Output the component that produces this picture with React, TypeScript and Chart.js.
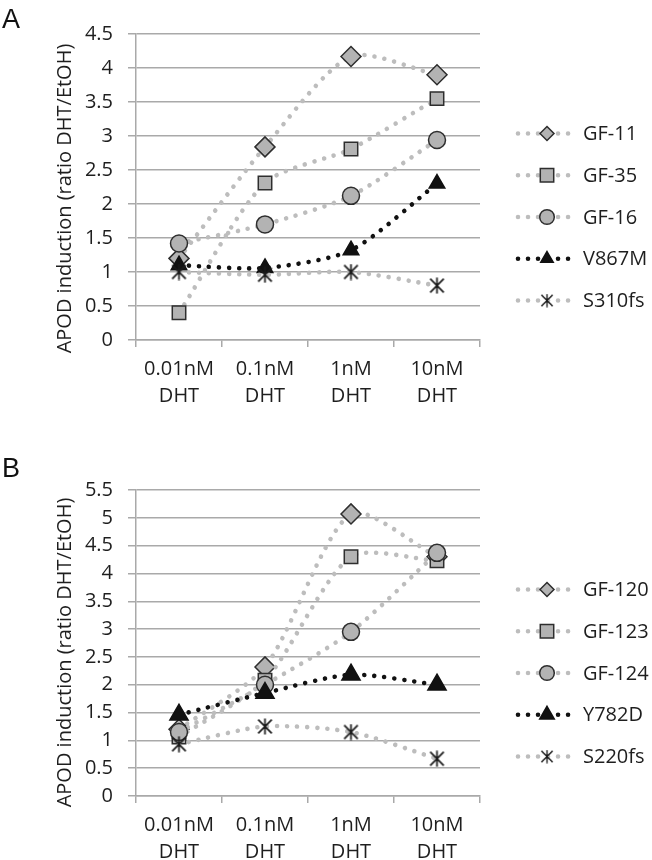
import React, { useEffect, useRef } from 'react';
import { Chart, registerables } from 'chart.js';

Chart.register(...registerables);

// ---------- data ----------
const categories: string[][] = [
  ['0.01nM', 'DHT'],
  ['0.1nM', 'DHT'],
  ['1nM', 'DHT'],
  ['10nM', 'DHT'],
];

const yTitle = 'APOD induction (ratio DHT/EtOH)';

// Panel A
const labelsA = ['GF-11', 'GF-35', 'GF-16', 'V867M', 'S310fs'];
const gf11 = [1.2, 2.84, 4.17, 3.9];
const gf35 = [0.4, 2.31, 2.81, 3.55];
const gf16 = [1.42, 1.7, 2.12, 2.94];
const v867m = [1.1, 1.06, 1.32, 2.3];
const s310fs = [1.0, 0.96, 1.0, 0.8];
const yMaxA = 4.5;

// Panel B
const labelsB = ['GF-120', 'GF-123', 'GF-124', 'Y782D', 'S220fs'];
const gf120 = [1.2, 2.32, 5.07, 4.3];
const gf123 = [1.06, 2.08, 4.3, 4.23];
const gf124 = [1.15, 2.0, 2.95, 4.37];
const y782d = [1.46, 1.85, 2.18, 2.0];
const s220fs = [0.93, 1.25, 1.15, 0.67];
const yMaxB = 5.5;

const yStep = 0.5;

// ---------- style ----------
const GRID = '#a9a9a9';
const TEXT = '#1e1e1e';
const LINE_GRAY = '#bdbdbd';
const LINE_BLACK = '#111111';
const FILL = '#b3b3b3';
const EDGE = '#2e2e2e';
const FONT = '"Open Sans", "Noto Sans", sans-serif';

function makeAsterisk(size: number, color: string, lw: number) {
  const c = document.createElement('canvas');
  c.width = size;
  c.height = size;
  const g = c.getContext('2d')!;
  g.strokeStyle = color;
  g.lineWidth = lw;
  const m = lw;
  g.beginPath();
  g.moveTo(m, m);
  g.lineTo(size - m, size - m);
  g.moveTo(size - m, m);
  g.lineTo(m, size - m);
  g.moveTo(size / 2, 0.5);
  g.lineTo(size / 2, size - 0.5);
  g.stroke();
  return c;
}

function drawMarker(
  ctx: CanvasRenderingContext2D,
  style: any,
  x: number,
  y: number,
  r: number,
  bg: string,
  border: string,
  bw: number
) {
  ctx.save();
  if (typeof style !== 'string') {
    const s = r * 2;
    ctx.drawImage(style, x - s / 2, y - s / 2, s, s);
    ctx.restore();
    return;
  }
  ctx.fillStyle = bg;
  ctx.strokeStyle = border;
  ctx.lineWidth = bw;
  ctx.beginPath();
  if (style === 'rectRot') {
    ctx.moveTo(x, y - r);
    ctx.lineTo(x + r, y);
    ctx.lineTo(x, y + r);
    ctx.lineTo(x - r, y);
    ctx.closePath();
  } else if (style === 'rect') {
    const h = r * Math.SQRT1_2;
    ctx.rect(x - h, y - h, 2 * h, 2 * h);
  } else if (style === 'circle') {
    ctx.arc(x, y, r, 0, Math.PI * 2);
  } else if (style === 'triangle') {
    const s = Math.sin(Math.PI / 3);
    ctx.moveTo(x, y - r);
    ctx.lineTo(x + r * s, y + r * 0.5);
    ctx.lineTo(x - r * s, y + r * 0.5);
    ctx.closePath();
  }
  ctx.fill();
  ctx.stroke();
  ctx.restore();
}

// Legend at the right and y-axis title (offset like the original)
const sideLegend = {
  id: 'sideLegend',
  afterDraw(chart: any, _args: any, opts: any) {
    const { ctx, chartArea } = chart;
    const ds = chart.data.datasets;
    const n = ds.length;
    const spacing = 41.75;
    const cy0 = (chartArea.top + chartArea.bottom) / 2 + 30 - (spacing * (n - 1)) / 2;
    ds.forEach((d: any, i: number) => {
      const y = cy0 + i * spacing;
      const x0 = chartArea.right + 38;
      const x1 = chartArea.right + 89;
      const xm = chartArea.right + 67;
      ctx.save();
      ctx.strokeStyle = d.borderColor;
      ctx.lineWidth = d.borderWidth;
      ctx.lineCap = 'round';
      ctx.setLineDash(d.borderDash);
      ctx.beginPath();
      ctx.moveTo(x0, y);
      ctx.lineTo(x1, y);
      ctx.stroke();
      ctx.setLineDash([]);
      ctx.restore();
      drawMarker(ctx, d.pointStyle, xm, y, d.legendRadius, d.pointBackgroundColor, d.pointBorderColor, d.pointBorderWidth);
      ctx.save();
      ctx.fillStyle = TEXT;
      ctx.font = '20px ' + FONT;
      ctx.textBaseline = 'middle';
      ctx.textAlign = 'left';
      ctx.fillText(d.label, chartArea.right + 103, y + 1);
      ctx.restore();
    });
    // y-axis title
    ctx.save();
    ctx.translate(chartArea.left - 71, (chartArea.top + chartArea.bottom) / 2 + (opts.titleShift || 0));
    ctx.rotate(-Math.PI / 2);
    ctx.fillStyle = TEXT;
    ctx.font = '20px ' + FONT;
    ctx.textAlign = 'center';
    ctx.textBaseline = 'middle';
    ctx.fillText(yTitle, 0, 0);
    ctx.restore();
  },
};

function buildConfig(
  names: string[],
  series: number[][],
  markers: any[],
  yMax: number,
  padTop: number,
  xHeight: number,
  titleShift: number
): any {
  return {
    type: 'line',
    data: {
      labels: categories,
      datasets: series.map((vals, i) => {
        const m = markers[i];
        return {
          label: names[i],
          data: vals,
          order: -i,
          borderColor: m.line,
          borderWidth: 4.6,
          borderDash: [0.01, 10],
          borderCapStyle: 'round',
          tension: 0.25,
          fill: false,
          pointStyle: m.style,
          pointRadius: m.r,
          pointBackgroundColor: m.bg,
          pointBorderColor: m.edge,
          pointBorderWidth: 1.5,
          legendRadius: m.lr,
        };
      }),
    },
    options: {
      responsive: false,
      animation: false,
      layout: { padding: { left: 53, right: 172, top: padTop, bottom: 0 } },
      plugins: {
        legend: { display: false },
        tooltip: { enabled: false },
        sideLegend: { titleShift },
      },
      scales: {
        x: {
          type: 'category',
          offset: true,
          grid: {
            offset: true,
            drawOnChartArea: false,
            drawTicks: true,
            tickLength: 7,
            color: GRID,
            lineWidth: 1.5,
          },
          border: { color: GRID, width: 1.5 },
          ticks: {
            color: TEXT,
            font: { family: FONT, size: 20, lineHeight: 1.35 },
            padding: 9,
            maxRotation: 0,
            autoSkip: false,
          },
          afterFit: (s: any) => {
            s.height = xHeight;
          },
        },
        y: {
          min: 0,
          max: yMax,
          ticks: {
            stepSize: yStep,
            color: TEXT,
            font: { family: FONT, size: 20 },
            padding: 15,
            callback: (v: any) => String(v),
          },
          grid: { color: GRID, lineWidth: 1.5, tickLength: 8 },
          border: { color: GRID, width: 1.5 },
          title: { display: false },
          afterFit: (s: any) => {
            s.width = 83;
          },
        },
      },
    },
    plugins: [sideLegend],
  };
}

export default function App() {
  const refA = useRef<HTMLCanvasElement>(null);
  const refB = useRef<HTMLCanvasElement>(null);

  useEffect(() => {
    const star = makeAsterisk(17, '#1a1a1a', 1.7);
    const mk = (triR: number) => [
      { style: 'rectRot', r: 10, lr: 7, bg: FILL, edge: EDGE, line: LINE_GRAY },
      { style: 'rect', r: 9.5, lr: 9.5, bg: FILL, edge: EDGE, line: LINE_GRAY },
      { style: 'circle', r: 8.5, lr: 7.3, bg: FILL, edge: EDGE, line: LINE_GRAY },
      { style: 'triangle', r: triR, lr: triR * 0.8, bg: '#111', edge: '#111', line: LINE_BLACK },
      { style: star, r: 8.5, lr: 7, bg: '#111', edge: '#111', line: LINE_GRAY },
    ];
    const a = new Chart(
      refA.current!,
      buildConfig(labelsA, [gf11, gf35, gf16, v867m, s310fs], mk(9), yMaxA, 34, 70, 11.5)
    );
    const b = new Chart(
      refB.current!,
      buildConfig(labelsB, [gf120, gf123, gf124, y782d, s220fs], mk(10.5), yMaxB, 80, 64, 9.5)
    );
    return () => {
      a.destroy();
      b.destroy();
    };
  }, []);

  const panelLabel: React.CSSProperties = {
    position: 'absolute',
    left: 2,
    font: '27px "Liberation Sans", Arial, sans-serif',
    lineHeight: '27px',
    color: '#111',
  };

  return (
    <div style={{ position: 'absolute', left: 0, top: 0, width: 652, height: 860, background: '#fff', overflow: 'hidden' }}>
      <canvas ref={refA} width={652} height={410} style={{ position: 'absolute', left: 0, top: 0 }} />
      <canvas ref={refB} width={652} height={450} style={{ position: 'absolute', left: 0, top: 410 }} />
      <div style={{ ...panelLabel, top: 5.6 }}>A</div>
      <div style={{ ...panelLabel, top: 455 }}>B</div>
    </div>
  );
}
